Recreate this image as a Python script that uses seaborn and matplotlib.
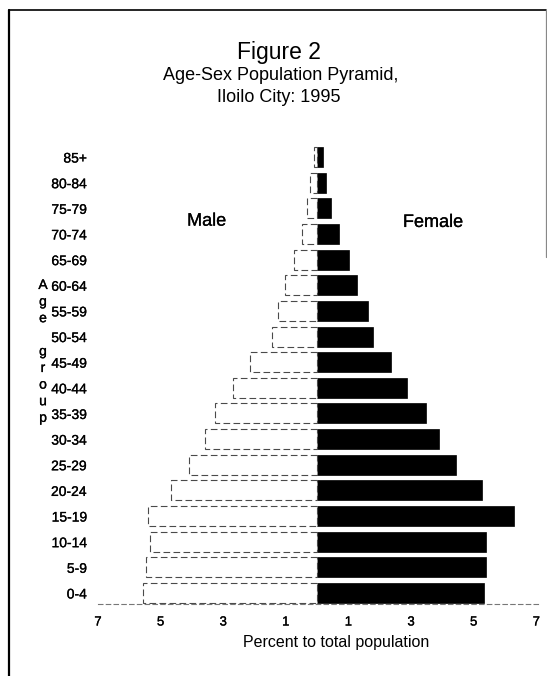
import matplotlib
matplotlib.use("Agg")
import matplotlib.pyplot as plt
from matplotlib.lines import Line2D
import matplotlib.patheffects as pe
import seaborn as sns
import pandas as pd

# ---- data (percent of total population) ----
age_groups = ["85+", "80-84", "75-79", "70-74", "65-69", "60-64", "55-59", "50-54",
              "45-49", "40-44", "35-39", "30-34", "25-29", "20-24", "15-19",
              "10-14", "5-9", "0-4"]
male = [0.10, 0.22, 0.32, 0.48, 0.73, 1.02, 1.25, 1.44, 2.14, 2.68, 3.26, 3.58,
        4.09, 4.66, 5.40, 5.34, 5.46, 5.56]
female = [0.18, 0.29, 0.45, 0.70, 1.02, 1.28, 1.63, 1.79, 2.36, 2.88, 3.48, 3.90,
          4.44, 5.27, 6.29, 5.40, 5.40, 5.34]
tick_values = [-7, -5, -3, -1, 1, 3, 5, 7]
tick_labels = ["7", "5", "3", "1", "1", "3", "5", "7"]

df = pd.DataFrame({
    "age": age_groups * 2,
    "sex": ["Male"] * len(age_groups) + ["Female"] * len(age_groups),
    "value": [-v for v in male] + female,
})

sns.set_theme(style="white")
plt.rcParams["font.family"] = ["Liberation Sans", "DejaVu Sans"]

W, H = 547, 676
fig = plt.figure(figsize=(W / 100, H / 100), dpi=100)
fig.patch.set_facecolor("white")

def fx(px):
    return px / W

def fy(py):
    return 1 - py / H

light = [pe.withStroke(linewidth=0.2, foreground="black")]

ax_left, ax_right, ax_top, ax_bottom = 98, 541, 145, 604
ax = fig.add_axes([fx(ax_left), fy(ax_bottom), fx(ax_right - ax_left), (ax_bottom - ax_top) / H])

sns.barplot(data=df[df.sex == "Female"], x="value", y="age", order=age_groups,
            orient="h", color="black", width=0.78, ax=ax, saturation=1,
            edgecolor="black", linewidth=0.5)
sns.barplot(data=df[df.sex == "Male"], x="value", y="age", order=age_groups,
            orient="h", color="white", width=0.78, ax=ax, saturation=1,
            edgecolor="#4a4a4a", linewidth=0.8, linestyle=(0, (6, 3)))

ax.set_xlim(-7.0, 7.15)
ax.set_ylim(17.43, -0.47)
ax.set_xticks(tick_values)
ax.set_xticklabels(tick_labels, fontsize=9.5)
ax.tick_params(axis="x", length=0, pad=9)
ax.tick_params(axis="y", length=0, pad=8, labelsize=10)
for lab in ax.get_xticklabels() + ax.get_yticklabels():
    lab.set_color("black")
    lab.set_path_effects(light)
ax.set_xlabel("")
ax.set_ylabel("")
for s in ["left", "top", "right"]:
    ax.spines[s].set_visible(False)
ax.spines["bottom"].set_color("#777777")
ax.spines["bottom"].set_linewidth(0.8)
ax.spines["bottom"].set_linestyle((0, (4, 3)))
ax.set_facecolor("white")

# Side labels
ax.text(-3.53, 2.5, "Male", fontsize=13, ha="center", va="center", color="black",
        path_effects=light)
ax.text(3.7, 2.55, "Female", fontsize=13, ha="center", va="center", color="black",
        path_effects=light)

# Titles
fig.text(fx(279), fy(52), "Figure 2", fontsize=16.5, ha="center", va="center",
         color="black")
fig.text(fx(281), fy(75), "Age-Sex Population Pyramid,", fontsize=13, ha="center",
         va="center", color="black")
fig.text(fx(279), fy(98), "Iloilo City: 1995", fontsize=13, ha="center", va="center",
         color="black")

# x-axis label
fig.text(fx(336), fy(643), "Percent to total population", fontsize=11.5, ha="center",
         va="center", color="black")

# vertical "Age group"
letters = ["A", "g", "e", "", "g", "r", "o", "u", "p"]
y0 = 285
for i, ch in enumerate(letters):
    if ch:
        fig.text(fx(43), fy(y0 + i * 16.6), ch, fontsize=10, ha="center", va="center",
                 color="black", path_effects=light)

# frame lines of the scanned page
fig.add_artist(Line2D([fx(9), fx(9)], [fy(10), fy(676)], color="black", lw=1.6))
fig.add_artist(Line2D([fx(9), fx(546)], [fy(10), fy(10)], color="black", lw=1.2))
fig.add_artist(Line2D([fx(546), fx(546)], [fy(10), fy(257)], color="#888888", lw=0.9))

fig.savefig("out.png", dpi=100, facecolor="white")
